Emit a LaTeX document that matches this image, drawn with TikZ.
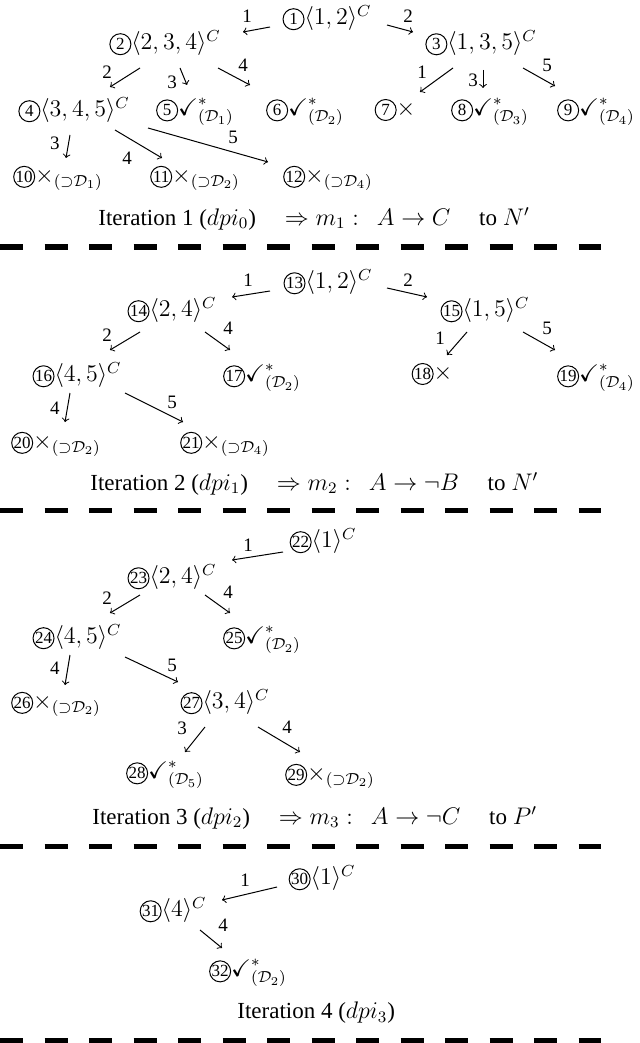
\documentclass[tikz,border=0pt]{standalone}
\usepackage{amssymb}
\usepackage{fontspec}
\setmainfont{Liberation Serif}
\begin{document}
\newcommand\cn[1]{\tikz[baseline=(c.base)]\node[circle,draw,line width=0.5pt,inner sep=0pt,minimum size=10.5pt,font=\fontsize{8.5}{9}\selectfont](c){#1};}
\newcommand\ok[1]{$\checkmark^{*}_{(\mathcal{D}_{#1})}$}
\newcommand\no[1]{$\times_{(\supset\mathcal{D}_{#1})}$}
\newcommand\rel[3]{([shift={(#2,#3)}]#1.center)}
\begin{tikzpicture}[x=0.5pt,y=-0.5pt,
  t/.style={inner sep=1pt,font=\fontsize{12}{14}\selectfont},
  ar/.style={->,line width=0.5pt},
  lb/.style={font=\fontsize{9.5}{10}\selectfont,inner sep=0pt},
  it/.style={anchor=west,inner sep=0pt,font=\fontsize{11.5}{14}\selectfont},
  dl/.style={line width=2.5pt,dash pattern=on 11.5pt off 10.75pt}]
\useasboundingbox (0,0) rectangle (640,1043);
% ---- section 1
\node[t] (n1) at (327,18) {\cn{1}$\langle 1,2\rangle^C$};
\node[t] (n2) at (165,43) {\cn{2}$\langle 2,3,4\rangle^C$};
\node[t] (n3) at (481,43) {\cn{3}$\langle 1,3,5\rangle^C$};
\node[t] (n4) at (74,110) {\cn{4}$\langle 3,4,5\rangle^C$};
\node[t] (n5) at (195,112) {\cn{5}\ok{1}};
\node[t] (n6) at (305,112) {\cn{6}\ok{2}};
\node[t] (n7) at (395,110) {\cn{7}$\times$};
\node[t] (n8) at (490,112) {\cn{8}\ok{3}};
\node[t] (n9) at (596,112) {\cn{9}\ok{4}};
\node[t] (n10) at (58,178) {\cn{10}\no{1}};
\node[t] (n11) at (195,178) {\cn{11}\no{2}};
\node[t] (n12) at (328,178) {\cn{12}\no{4}};
\draw[ar] \rel{n1}{-57}{9} -- \rel{n2}{78}{-11} node[lb] at (247,16) {1};
\draw[ar] \rel{n1}{60}{7} -- \rel{n3}{-68}{-11} node[lb] at (408,16) {2};
\draw[ar] \rel{n2}{-25}{25} -- \rel{n4}{36}{-23} node[lb] at (107,72) {2};
\draw[ar] \rel{n2}{15}{25} -- \rel{n5}{-8}{-27} node[lb] at (172,82) {3};
\draw[ar] \rel{n2}{53}{25} -- \rel{n6}{-55}{-27} node[lb] at (243,65) {4};
\draw[ar] \rel{n3}{-28}{25} -- \rel{n7}{25}{-18} node[lb] at (422,72) {1};
\draw[ar] \rel{n3}{2}{27} -- \rel{n8}{-7}{-24} node[lb] at (473,80) {3};
\draw[ar] \rel{n3}{42}{25} -- \rel{n9}{-41}{-26} node[lb] at (547,65) {5};
\draw[ar] \rel{n4}{-4}{25} -- \rel{n10}{8}{-20} node[lb] at (55,143) {3};
\draw[ar] \rel{n4}{41}{20} -- \rel{n11}{-33}{-20} node[lb] at (127,158) {4};
\draw[ar] \rel{n4}{74}{18} -- \rel{n12}{-60}{-16} node[lb] at (233,137) {5};
\node[it] (i1) at (98,219) {Iteration 1 ($dpi_0$)\quad\ $\Rightarrow m_1:\ \ A\rightarrow C$\quad\ to $N'$};
\draw[dl] (0,247) -- (601,247);
% ---- section 2
\node[t] (n13) at (328,282) {\cn{13}$\langle 1,2\rangle^C$};
\node[t] (n14) at (172,310) {\cn{14}$\langle 2,4\rangle^C$};
\node[t] (n15) at (485,310) {\cn{15}$\langle 1,5\rangle^C$};
\node[t] (n16) at (77,375) {\cn{16}$\langle 4,5\rangle^C$};
\node[t] (n17) at (262,378) {\cn{17}\ok{2}};
\node[t] (n18) at (432,374) {\cn{18}$\times$};
\node[t] (n19) at (596,378) {\cn{19}\ok{4}};
\node[t] (n20) at (56,444) {\cn{20}\no{2}};
\node[t] (n21) at (225,444) {\cn{21}\no{4}};
\draw[ar] \rel{n13}{-58}{9} -- \rel{n14}{60}{-13} node[lb] at (248,280) {1};
\draw[ar] \rel{n13}{59}{6} -- \rel{n15}{-58}{-13} node[lb] at (408,280) {2};
\draw[ar] \rel{n14}{-32}{22} -- \rel{n16}{33}{-25} node[lb] at (107,335) {2};
\draw[ar] \rel{n14}{33}{22} -- \rel{n17}{-32}{-28} node[lb] at (228,328) {4};
\draw[ar] \rel{n15}{-18}{22} -- \rel{n18}{15}{-19} node[lb] at (440,338) {1};
\draw[ar] \rel{n15}{38}{22} -- \rel{n19}{-41}{-28} node[lb] at (547,328) {5};
\draw[ar] \rel{n16}{-7}{18} -- \rel{n20}{9}{-22} node[lb] at (55,408) {4};
\draw[ar] \rel{n16}{48}{18} -- \rel{n21}{-42}{-22} node[lb] at (172,402) {5};
\node[it] (i2) at (90,484) {Iteration 2 ($dpi_1$)\quad\ $\Rightarrow m_2:\ \ A\rightarrow \neg B$\quad\ to $N'$};
\draw[dl] (0,510) -- (601,510);
% ---- section 3
\node[t] (n22) at (323,541) {\cn{22}$\langle 1\rangle^C$};
\node[t] (n23) at (172,577) {\cn{23}$\langle 2,4\rangle^C$};
\node[t] (n24) at (77,637) {\cn{24}$\langle 4,5\rangle^C$};
\node[t] (n25) at (262,640) {\cn{25}\ok{2}};
\node[t] (n26) at (56,704) {\cn{26}\no{2}};
\node[t] (n27) at (225,702) {\cn{27}$\langle 3,4\rangle^C$};
\node[t] (n28) at (165,775) {\cn{28}\ok{5}};
\node[t] (n29) at (330,776) {\cn{29}\no{2}};
\draw[ar] \rel{n22}{-40}{11} -- \rel{n23}{60}{-17} node[lb] at (248,545) {1};
\draw[ar] \rel{n23}{-32}{18} -- \rel{n24}{33}{-24} node[lb] at (107,598) {2};
\draw[ar] \rel{n23}{33}{18} -- \rel{n25}{-32}{-27} node[lb] at (228,592) {4};
\draw[ar] \rel{n24}{-7}{18} -- \rel{n26}{9}{-19} node[lb] at (55,668) {4};
\draw[ar] \rel{n24}{48}{20} -- \rel{n27}{-47}{-20} node[lb] at (172,665) {5};
\draw[ar] \rel{n27}{-20}{25} -- \rel{n28}{20}{-23} node[lb] at (182,728) {3};
\draw[ar] \rel{n27}{33}{25} -- \rel{n29}{-30}{-24} node[lb] at (287,727) {4};
\node[it] (i3) at (92,818) {Iteration 3 ($dpi_2$)\quad\ $\Rightarrow m_3:\ \ A\rightarrow \neg C$\quad\ to $P'$};
\draw[dl] (0,846) -- (601,846);
% ---- section 4
\node[t] (n30) at (322,878) {\cn{30}$\langle 1\rangle^C$};
\node[t] (n31) at (173,910) {\cn{31}$\langle 4\rangle^C$};
\node[t] (n32) at (248,973) {\cn{32}\ok{2}};
\draw[ar] \rel{n30}{-45}{9} -- \rel{n31}{49}{-10} node[lb] at (245,880) {1};
\draw[ar] \rel{n31}{27}{20} -- \rel{n32}{-26}{-25} node[lb] at (223,925) {4};
\node[it] (i4) at (237,1013) {Iteration 4 ($dpi_3$)};
\draw[dl] (0,1040) -- (601,1040);
\end{tikzpicture}
\end{document}
